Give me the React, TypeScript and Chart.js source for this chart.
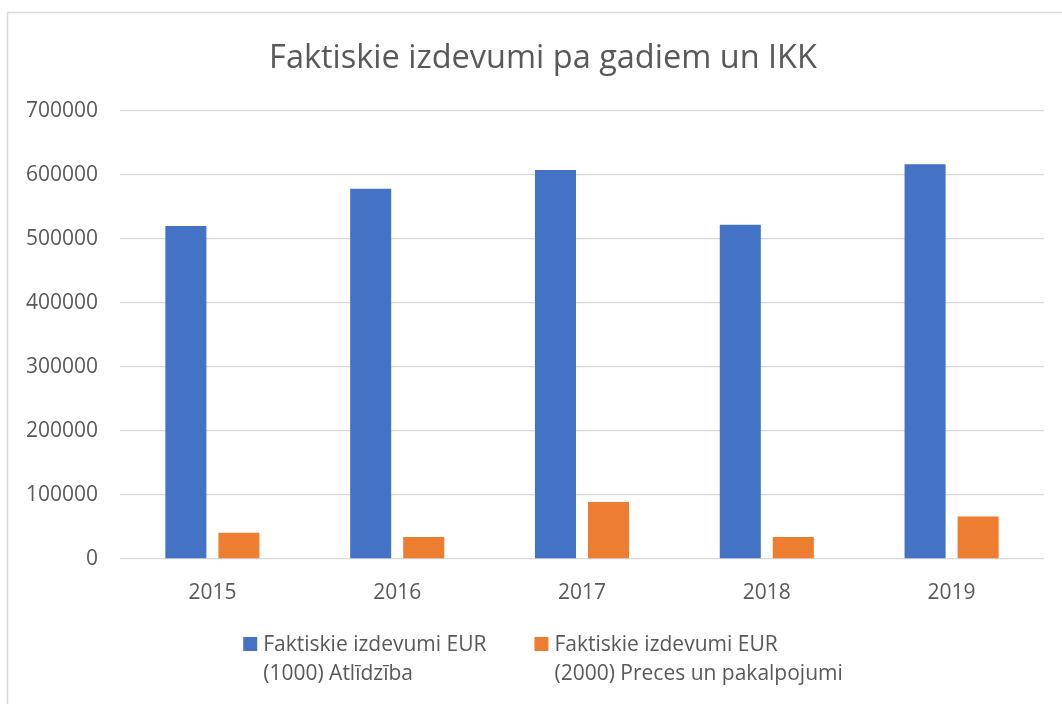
import React, { useEffect, useRef } from "react";
import { Chart, registerables } from "chart.js";

Chart.register(...registerables);

const title = "Faktiskie izdevumi pa gadiem un IKK";
const years = ["2015", "2016", "2017", "2018", "2019"];
const seriesNames = [
  ["Faktiskie izdevumi EUR", "(1000) Atlīdzība"],
  ["Faktiskie izdevumi EUR", "(2000) Preces un pakalpojumi"],
];
const atlidziba = [520300, 578600, 607800, 522300, 616700];
const precesPakalpojumi = [41100, 34400, 89100, 34400, 66300];
const seriesColors = ["#4472C4", "#ED7D31"];
const yTicks = [0, 100000, 200000, 300000, 400000, 500000, 600000, 700000];

const FONT = "'Open Sans', 'Noto Sans', sans-serif";
const TEXT = "#595959";

const decor = {
  id: "decor",
  beforeDraw(chart: any) {
    const ctx = chart.ctx;
    ctx.save();
    ctx.fillStyle = "#ffffff";
    ctx.fillRect(0, 0, chart.width, chart.height);
    ctx.strokeStyle = "#d9d9d9";
    ctx.lineWidth = 1.5;
    ctx.beginPath();
    ctx.moveTo(7.5, chart.height + 5);
    ctx.lineTo(7.5, 12.5);
    ctx.lineTo(chart.width + 5, 12.5);
    ctx.stroke();
    ctx.restore();
  },
  afterDraw(chart: any) {
    const ctx = chart.ctx;
    const cx = 543;
    ctx.save();
    ctx.fillStyle = TEXT;
    ctx.font = `32.5px ${FONT}`;
    ctx.textAlign = "center";
    ctx.textBaseline = "alphabetic";
    ctx.fillText(title, cx, 68);

    // legend
    ctx.font = `21px ${FONT}`;
    ctx.textAlign = "left";
    const box = 14;
    const boxGap = 6;
    const itemGap = 48;
    const widths = chart.data.datasets.map((ds: any) =>
      Math.max(...ds.legendLines.map((l: string) => ctx.measureText(l).width))
    );
    const total =
      widths.reduce((a: number, w: number) => a + box + boxGap + w, 0) +
      itemGap * (widths.length - 1);
    let x = cx - total / 2;
    chart.data.datasets.forEach((ds: any, i: number) => {
      ctx.fillStyle = ds.backgroundColor;
      ctx.fillRect(x, 637, box, box);
      ctx.fillStyle = TEXT;
      ds.legendLines.forEach((line: string, j: number) => {
        ctx.fillText(line, x + box + boxGap, 651 + j * 29);
      });
      x += box + boxGap + widths[i] + itemGap;
    });
    ctx.restore();
  },
};

export default function App() {
  const ref = useRef<HTMLCanvasElement>(null);
  useEffect(() => {
    if (!ref.current) return;
    const chart = new Chart(ref.current, {
      type: "bar",
      data: {
        labels: years,
        datasets: [
          {
            label: seriesNames[0].join(" "),
            legendLines: seriesNames[0],
            data: atlidziba,
            backgroundColor: seriesColors[0],
            barPercentage: 0.774,
            categoryPercentage: 0.574,
          } as any,
          {
            label: seriesNames[1].join(" "),
            legendLines: seriesNames[1],
            data: precesPakalpojumi,
            backgroundColor: seriesColors[1],
            barPercentage: 0.774,
            categoryPercentage: 0.574,
          } as any,
        ],
      },
      options: {
        animation: false,
        responsive: false,
        maintainAspectRatio: false,
        layout: { padding: { top: 111, right: 18, left: 0, bottom: 0 } },
        plugins: {
          legend: { display: false },
          title: { display: false },
          tooltip: { enabled: false },
        },
        scales: {
          x: {
            grid: { display: false, drawTicks: false },
            border: { display: false },
            ticks: {
              color: TEXT,
              font: { family: FONT, size: 21 },
              padding: 21,
            },
            afterFit: (s: any) => {
              s.height = 145;
            },
          },
          y: {
            min: 0,
            max: 700000,
            afterBuildTicks: (s: any) => {
              s.ticks = yTicks.map((v) => ({ value: v }));
            },
            grid: { color: "#d9d9d9", lineWidth: 1.3, drawTicks: false },
            border: { display: false },
            ticks: {
              color: TEXT,
              font: { family: FONT, size: 21 },
              padding: 22,
              callback: (v: any) => String(v),
            },
            afterFit: (s: any) => {
              s.width = 120;
            },
          },
        },
      },
      plugins: [decor],
    });
    return () => chart.destroy();
  }, []);
  return (
    <div style={{ position: "absolute", left: 0, top: 0, width: 1062, height: 704 }}>
      <canvas ref={ref} width={1062} height={704} />
    </div>
  );
}
